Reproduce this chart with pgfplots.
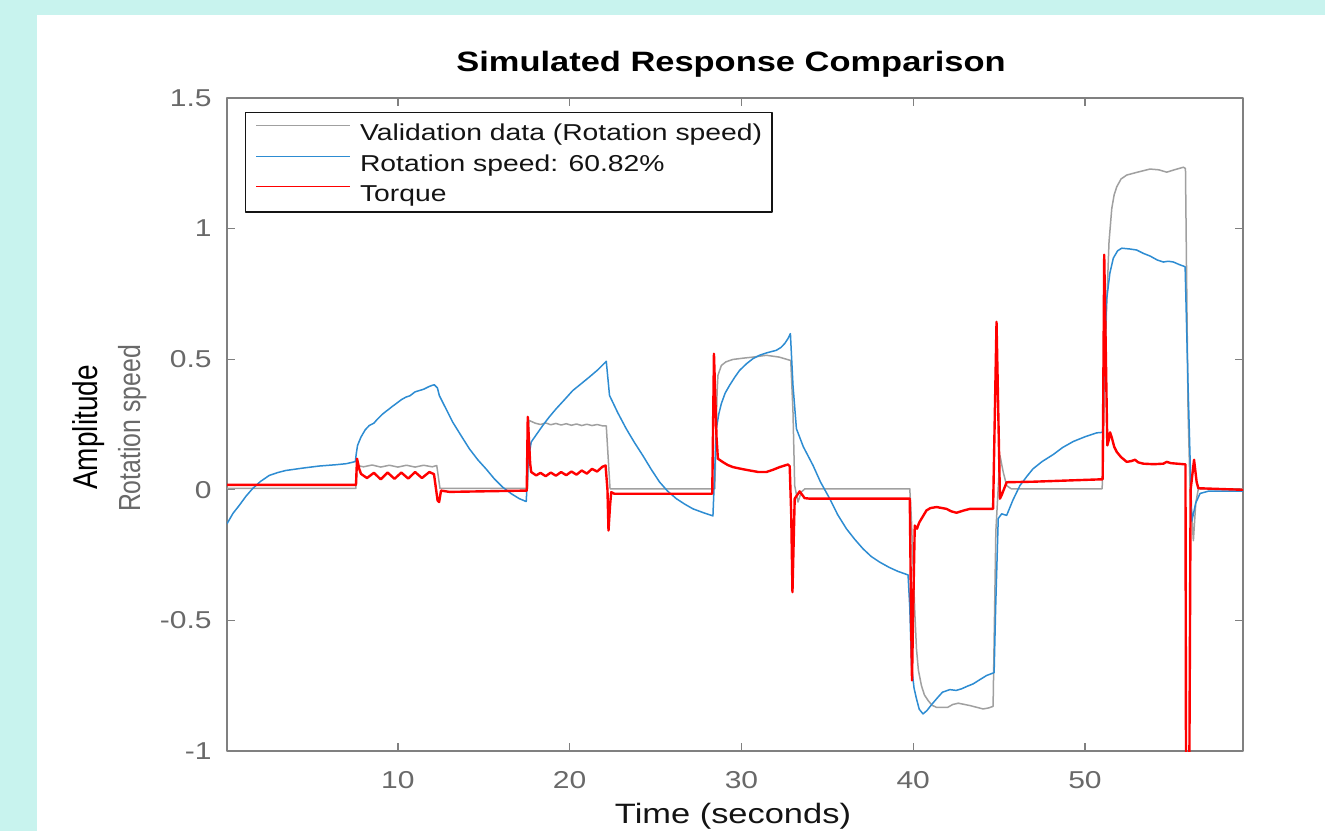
\documentclass[border=0pt]{standalone}
\usepackage{fontspec}
\setmainfont{Liberation Sans}[FakeStretch=1.23]
\newfontfamily\plainsans{Liberation Sans}
\usepackage{graphicx}
\usepackage{pgfplots}
\pgfplotsset{compat=1.18}
\definecolor{bgcyan}{RGB}{200,243,238}
\definecolor{axgray}{RGB}{128,128,128}
\definecolor{ticktext}{RGB}{105,105,105}
\definecolor{valgray}{RGB}{160,160,160}
\definecolor{mblue}{RGB}{45,140,210}
\definecolor{mred}{RGB}{255,0,0}
\definecolor{txtblack}{RGB}{20,20,20}
\begin{document}
\begin{tikzpicture}
\fill[bgcyan] (0,0) rectangle (662.5pt,415.5pt);
\useasboundingbox (0,0) rectangle (662.5pt,415.5pt);
\fill[white] (18.5pt,0) rectangle (662.5pt,408pt);
\begin{axis}[
  at={(113.5pt,40pt)}, anchor=south west,
  scale only axis, width=508pt, height=326.5pt,
  xmin=0.05, xmax=59.2, ymin=-1, ymax=1.5,
  xtick={10,20,30,40,50}, xticklabels={10,20,30,40,50},
  ytick={-1,-0.5,0,0.5,1,1.5}, yticklabels={-1,-0.5,0,0.5,1,1.5},
  /pgf/number format/assume math mode=true,
  axis line style={draw=axgray, line width=0.6pt},
  tick style={draw=axgray, line width=0.6pt},
  tick align=inside, major tick length=4pt,
  xticklabel style={font=\fontsize{12.2}{14}\selectfont, text=ticktext, inner sep=0pt, anchor=north, yshift=-10pt},
  yticklabel style={font=\fontsize{12.2}{14}\selectfont, text=ticktext, inner sep=0pt, anchor=east, xshift=-7.5pt},
  legend style={at={(0,1)}, anchor=north west, xshift=9pt, yshift=-7pt,
    draw=txtblack, line width=0.6pt, inner xsep=5pt, inner ysep=4.1pt,
    font=\fontsize{11.5}{13}\selectfont, text=txtblack,
    nodes={inner sep=0pt, text height=10pt, text depth=1pt},
    row sep=4.25pt, column sep=4.5pt, cells={anchor=west}},
  legend image code/.code={\draw[#1, line width=0.7pt] (0pt,3pt) -- (47pt,3pt);},
  clip=true,
  line join=round,
]
\addplot[valgray, line width=0.75pt] coordinates {
(0.05,0.005)(7.55,0.005)(7.62,0.093)(8.0,0.088)(8.5,0.095)(9.0,0.087)(9.5,0.094)(10.0,0.087)(10.5,0.094)(11.0,0.087)(11.5,0.094)(12.0,0.088)(12.26,0.093)(12.45,0.005)(17.55,0.005)(17.62,0.266)(18.0,0.255)(18.3,0.25)(18.6,0.256)(18.9,0.249)(19.2,0.254)(19.5,0.248)(19.8,0.253)(20.1,0.247)(20.4,0.252)(20.7,0.246)(21.0,0.251)(21.3,0.246)(21.6,0.25)(21.9,0.245)(22.13,0.245)(22.35,0.004)(28.45,0.004)(28.52,0.2)(28.58,0.37)(28.63,0.438)(28.83,0.476)(29.1,0.49)(29.5,0.499)(30.1,0.504)(30.67,0.508)(31.45,0.515)(32.2,0.508)(32.87,0.495)(33.0,0.30)(33.10,0.016)(33.29,-0.047)(33.49,-0.008)(33.7,0.004)(39.8,0.004)(39.9,-0.12)(39.99,-0.29)(40.1,-0.48)(40.19,-0.609)(40.3,-0.69)(40.48,-0.75)(40.65,-0.785)(40.87,-0.807)(41.1,-0.825)(41.36,-0.833)(42.0,-0.833)(42.3,-0.822)(42.62,-0.817)(43.0,-0.822)(43.3,-0.826)(44.07,-0.839)(44.4,-0.835)(44.65,-0.829)(44.81,-0.16)(45.05,0.131)(45.24,0.068)(45.44,0.016)(45.7,0.004)(51.0,0.004)(51.08,0.2)(51.15,0.45)(51.26,0.70)(51.4,0.95)(51.56,1.077)(51.7,1.13)(51.85,1.16)(52.1,1.19)(52.43,1.205)(53.0,1.215)(53.79,1.228)(54.3,1.225)(54.76,1.216)(55.2,1.225)(55.73,1.235)(55.85,1.23)(56.0,0.3)(56.12,0.0)(56.31,-0.195)(56.45,-0.05)(56.6,0.004)(59.2,0.004)
};
\addlegendentry{Validation data (Rotation speed)}
\addplot[mblue, line width=0.75pt] coordinates {
(0.05,-0.13)(0.4,-0.09)(0.76,-0.06)(1.15,-0.025)(1.53,0.004)(2.0,0.032)(2.51,0.055)(3.0,0.066)(3.48,0.074)(4.45,0.083)(5.42,0.091)(6.39,0.096)(7.0,0.1)(7.52,0.108)(7.58,0.14)(7.65,0.17)(7.85,0.202)(8.1,0.23)(8.33,0.246)(8.6,0.255)(8.8,0.27)(9.11,0.29)(9.3,0.30)(9.5,0.31)(9.69,0.32)(9.9,0.33)(10.2,0.345)(10.47,0.355)(10.7,0.36)(11.0,0.375)(11.25,0.38)(11.5,0.385)(11.8,0.395)(12.0,0.40)(12.12,0.402)(12.3,0.39)(12.41,0.361)(12.8,0.31)(13.19,0.259)(13.7,0.205)(14.16,0.157)(14.65,0.115)(15.13,0.08)(15.6,0.043)(16.10,0.01)(16.6,-0.015)(17.07,-0.034)(17.47,-0.045)(17.6,0.12)(17.76,0.183)(18.1,0.215)(18.43,0.246)(18.8,0.278)(19.21,0.31)(19.7,0.345)(20.18,0.38)(20.65,0.405)(21.15,0.432)(21.65,0.46)(22.13,0.492)(22.32,0.361)(22.8,0.295)(23.29,0.234)(23.78,0.18)(24.26,0.131)(24.75,0.078)(25.23,0.03)(25.7,-0.005)(26.21,-0.034)(26.7,-0.055)(27.18,-0.073)(27.8,-0.088)(28.34,-0.10)(28.54,0.234)(28.68,0.29)(28.83,0.33)(29.05,0.37)(29.31,0.40)(29.6,0.43)(29.89,0.457)(30.3,0.483)(30.67,0.502)(31.05,0.515)(31.45,0.524)(32.03,0.534)(32.3,0.545)(32.52,0.56)(32.7,0.578)(32.85,0.598)(33.0,0.40)(33.20,0.234)(33.6,0.165)(34.17,0.093)(34.6,0.03)(35.14,-0.034)(35.6,-0.095)(36.11,-0.149)(36.6,-0.19)(37.08,-0.226)(37.55,-0.255)(38.05,-0.277)(38.6,-0.297)(39.1,-0.312)(39.70,-0.326)(39.80,-0.45)(39.90,-0.673)(40.05,-0.76)(40.19,-0.80)(40.35,-0.84)(40.57,-0.858)(40.8,-0.845)(41.1,-0.82)(41.36,-0.80)(41.7,-0.775)(42.13,-0.765)(42.5,-0.768)(42.81,-0.762)(43.15,-0.752)(43.49,-0.743)(43.9,-0.726)(44.27,-0.711)(44.71,-0.70)(44.8,-0.45)(44.95,-0.11)(45.15,-0.092)(45.44,-0.098)(45.8,-0.04)(46.21,0.016)(46.6,0.05)(46.97,0.08)(47.5,0.108)(48.15,0.135)(48.7,0.162)(49.32,0.185)(50.0,0.203)(50.68,0.218)(51.03,0.22)(51.12,0.5)(51.26,0.728)(51.45,0.83)(51.65,0.887)(51.9,0.915)(52.14,0.925)(52.6,0.922)(53.01,0.918)(53.4,0.905)(53.79,0.895)(54.2,0.88)(54.56,0.872)(54.85,0.875)(55.15,0.872)(55.5,0.862)(55.83,0.854)(56.0,0.4)(56.22,-0.12)(56.45,-0.05)(56.7,-0.014)(57.2,-0.005)(59.2,-0.005)
};
\addlegendentry{Rotation speed: 60.82\%}
\addplot[mred, line width=1.2pt] coordinates {
(0.05,0.019)(7.56,0.019)(7.62,0.119)(7.75,0.08)(7.85,0.061)(8.2,0.045)(8.6,0.065)(9.0,0.04)(9.4,0.066)(9.8,0.042)(10.2,0.066)(10.6,0.043)(11.0,0.068)(11.4,0.045)(11.83,0.068)(12.1,0.06)(12.31,-0.041)(12.4,-0.047)(12.51,-0.003)(13.0,-0.008)(17.50,-0.003)(17.56,0.279)(17.7,0.1)(17.76,0.068)(18.05,0.055)(18.3,0.065)(18.6,0.052)(18.9,0.066)(19.2,0.054)(19.5,0.068)(19.8,0.056)(20.1,0.07)(20.4,0.058)(20.7,0.074)(21.0,0.062)(21.3,0.08)(21.6,0.07)(21.9,0.088)(22.09,0.093)(22.2,0.0)(22.26,-0.156)(22.35,-0.06)(22.42,-0.009)(22.6,-0.015)(28.30,-0.015)(28.40,0.521)(28.55,0.2)(28.63,0.119)(28.92,0.106)(29.2,0.095)(29.50,0.087)(30.0,0.08)(30.48,0.074)(31.0,0.068)(31.45,0.068)(31.85,0.077)(32.23,0.087)(32.71,0.097)(32.81,0.09)(32.9,-0.1)(32.97,-0.392)(33.10,-0.034)(33.39,-0.006)(33.68,-0.032)(34.0,-0.034)(39.80,-0.034)(39.88,-0.5)(39.93,-0.73)(40.0,-0.45)(40.09,-0.137)(40.22,-0.149)(40.35,-0.125)(40.48,-0.111)(40.77,-0.079)(41.0,-0.07)(41.36,-0.066)(41.94,-0.073)(42.2,-0.082)(42.52,-0.088)(42.9,-0.08)(43.30,-0.073)(44.65,-0.073)(44.85,0.643)(45.05,-0.034)(45.15,-0.02)(45.44,0.029)(47.0,0.031)(50.9,0.04)(51.03,0.04)(51.12,0.90)(51.30,0.17)(51.38,0.19)(51.46,0.22)(51.56,0.2)(51.7,0.165)(51.85,0.145)(52.1,0.125)(52.43,0.107)(52.7,0.11)(52.91,0.115)(53.1,0.105)(53.40,0.10)(54.0,0.098)(54.56,0.10)(54.76,0.107)(55.0,0.102)(55.73,0.098)(55.85,0.098)(55.88,-1.0)(55.98,-1.25)(56.08,-1.0)(56.15,0.0)(56.35,0.115)(56.5,0.03)(56.6,0.006)(59.2,0.0)
};
\addlegendentry{Torque}
\end{axis}
\node[anchor=base, text=black, font=\fontsize{14}{16}\selectfont\bfseries] at (365.5pt,379.5pt) {Simulated Response Comparison};
\node[anchor=base, text=txtblack, font=\fontsize{14}{16}\selectfont] at (366.5pt,3.75pt) {Time (seconds)};
\node[anchor=base, rotate=90, text=black, inner sep=0pt] at (48.5pt,201.75pt) {\scalebox{1}[1.23]{\plainsans\fontsize{14}{16}\selectfont Amplitude}};
\node[anchor=base, rotate=90, text=ticktext, inner sep=0pt] at (70pt,201.25pt) {\scalebox{1}[1.23]{\plainsans\fontsize{12.4}{14}\selectfont Rotation speed}};
\end{tikzpicture}
\end{document}
